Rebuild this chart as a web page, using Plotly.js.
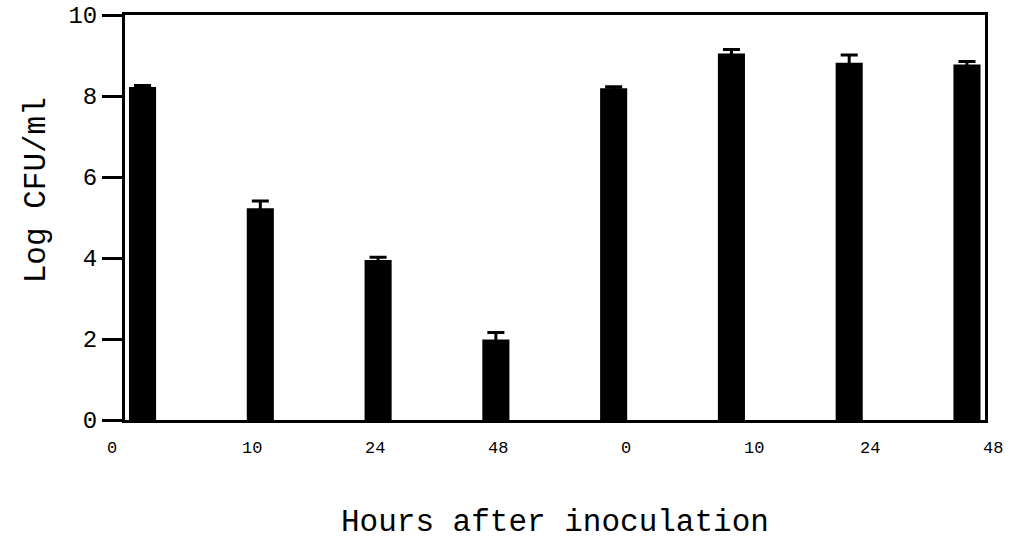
<!DOCTYPE html>
<html>
<head>
<meta charset="utf-8">
<script src="https://cdn.plot.ly/plotly-3.0.1.min.js"></script>
<style>html,body{margin:0;padding:0;background:#fff}#chart{width:1010px;height:543px}</style>
</head>
<body>
<div id="chart"></div>
<script>
// Data
var groups = ['A', 'A', 'A', 'A', 'B', 'B', 'B', 'B'];
var hourLabels = ['0', '10', '24', '48', '0', '10', '24', '48'];
var logCFU = [8.22, 5.23, 3.95, 1.99, 8.19, 9.05, 8.82, 8.78];
var errors = [0.04, 0.18, 0.07, 0.17, 0.04, 0.10, 0.19, 0.07];
var yTicks = [0, 2, 4, 6, 8, 10];

var xIdx = logCFU.map(function (_, i) { return i; });
var xRange = [-0.149, 7.153];
// horizontal offsets of the hour labels relative to each bar (layout styling)
var labelShift = [-0.263, -0.07, -0.03, 0.014, 0.109, 0.188, 0.177, 0.217];

var mono = 'Liberation Mono, Courier New, monospace';

var trace = {
  type: 'bar',
  x: xIdx,
  y: logCFU,
  width: 0.23,
  marker: {color: '#000', line: {width: 0}},
  error_y: {type: 'data', array: errors, visible: true, color: '#000', thickness: 3, width: 8.5},
  hoverinfo: 'skip'
};

function toPaper(v) { return (v - xRange[0]) / (xRange[1] - xRange[0]); }

var annotations = hourLabels.map(function (t, i) {
  return {
    text: t, x: toPaper(xIdx[i] + labelShift[i]), xref: 'paper',
    y: -0.071, yref: 'paper', yanchor: 'middle', xanchor: 'center',
    showarrow: false, font: {family: mono, size: 17, color: '#000'}
  };
});
annotations.push({
  text: 'Log CFU/ml', textangle: -90, xref: 'paper', yref: 'paper',
  x: -0.102, y: 0.568, xanchor: 'center', yanchor: 'middle', showarrow: false,
  font: {family: mono, size: 31, color: '#000'}
});
annotations.push({
  text: 'Hours after inoculation', xref: 'paper', yref: 'paper',
  x: 0.5, y: -0.252, xanchor: 'center', yanchor: 'middle', showarrow: false,
  font: {family: mono, size: 31, color: '#000'}
});

var layout = {
  width: 1010, height: 543,
  margin: {l: 125, r: 25, t: 15, b: 123, pad: 0},
  paper_bgcolor: '#fff', plot_bgcolor: '#fff',
  showlegend: false,
  xaxis: {
    range: xRange, showgrid: false, zeroline: false,
    showticklabels: false, ticks: '',
    showline: true, linecolor: '#000', linewidth: 3, mirror: true, fixedrange: true
  },
  yaxis: {
    range: [0, 10], tickvals: yTicks, ticktext: yTicks.map(String),
    showgrid: false, zeroline: false,
    ticks: 'outside', ticklen: 20, tickwidth: 3, tickcolor: '#000',
    showline: true, linecolor: '#000', linewidth: 3, mirror: true,
    tickfont: {family: mono, size: 24, color: '#000'}, fixedrange: true
  },
  annotations: annotations
};

Plotly.newPlot('chart', [trace], layout, {displayModeBar: false, staticPlot: true});
</script>
</body>
</html>
